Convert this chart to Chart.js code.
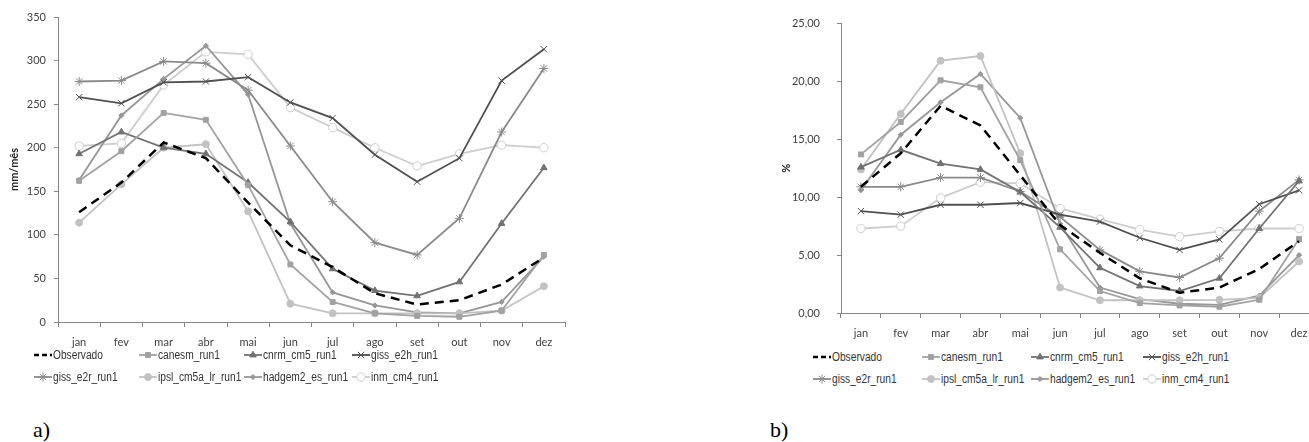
<!DOCTYPE html>
<html>
<head>
<meta charset="utf-8">
<script src="https://cdn.jsdelivr.net/npm/chart.js@4.4.0/dist/chart.umd.min.js"></script>
<style>
body { margin: 0; width: 1309px; height: 442px; overflow: hidden; background: #fff; position: relative; }
.box { position: absolute; top: 0; }
.leg { position: absolute; display: flex; align-items: center; white-space: nowrap;
       font-family: 'Liberation Sans', Arial, sans-serif; font-size: 12px; color: #333; }
.leg span { display: inline-block; transform: scaleX(0.85); transform-origin: left center; }
.tag { position: absolute; font-family: 'Liberation Serif', serif; font-size: 22px; color: #000; }
</style>
</head>
<body>
<div class="box" style="left:0; width:575px; height:352px"><canvas id="ca"></canvas></div>
<div class="box" style="left:760px; width:569px; height:343px"><canvas id="cb"></canvas></div>
<div id="legends"></div>
<div class="tag" style="left:33px; top:417px">a)</div>
<div class="tag" style="left:770px; top:417px">b)</div>
<script>
const months = ['jan', 'fev', 'mar', 'abr', 'mai', 'jun', 'jul', 'ago', 'set', 'out', 'nov', 'dez'];
const names = ['Observado', 'canesm_run1', 'cnrm_cm5_run1', 'giss_e2h_run1',
               'giss_e2r_run1', 'ipsl_cm5a_lr_run1', 'hadgem2_es_run1', 'inm_cm4_run1'];

// a) precipitation, mm/mes
const mmObservado = [126, 160, 206, 188, 137, 88, 63, 33, 20, 25, 43, 74];
const mmCanesm    = [162, 196, 240, 232, 157, 66, 23, 10, 7, 6, 13, 77];
const mmCnrm      = [193, 218, 200, 193, 160, 115, 61, 36, 30, 46, 113, 177];
const mmGissE2h   = [258, 251, 275, 276, 281, 252, 234, 192, 161, 188, 277, 313];
const mmGissE2r   = [276, 277, 299, 297, 266, 202, 138, 91, 77, 119, 218, 291];
const mmIpsl      = [114, 158, 200, 204, 127, 21, 10, 10, 10, 10, 13, 41];
const mmHadgem    = [163, 237, 279, 317, 261, 113, 34, 19, 11, 10, 23, 75];
const mmInm       = [202, 205, 272, 310, 307, 246, 223, 200, 179, 193, 203, 200];

// b) share of the annual total, %
const pctObservado = [10.9, 13.8, 17.9, 16.2, 11.9, 7.6, 5.2, 3.0, 1.75, 2.2, 3.8, 6.2];
const pctCanesm    = [13.7, 16.5, 20.1, 19.5, 13.2, 5.5, 1.9, 0.85, 0.65, 0.54, 1.14, 6.4];
const pctCnrm      = [12.6, 14.1, 12.9, 12.4, 10.45, 7.4, 3.9, 2.33, 1.9, 3.0, 7.3, 11.4];
const pctGissE2h   = [8.8, 8.5, 9.35, 9.35, 9.5, 8.5, 7.9, 6.5, 5.45, 6.36, 9.4, 10.6];
const pctGissE2r   = [10.9, 10.9, 11.7, 11.7, 10.5, 8.3, 5.45, 3.6, 3.07, 4.74, 8.8, 11.5];
const pctIpsl      = [12.4, 17.2, 21.8, 22.2, 13.8, 2.2, 1.1, 1.1, 1.1, 1.14, 1.3, 4.45];
const pctHadgem    = [10.6, 15.4, 18.2, 20.65, 16.85, 7.7, 2.2, 1.2, 0.8, 0.7, 1.5, 5.0];
const pctInm       = [7.3, 7.5, 9.95, 11.3, 11.2, 9.03, 8.1, 7.2, 6.6, 7.05, 7.3, 7.3];

// line look for each series, same order as names
const looks = [
    { color: '#000000', width: 2.5, dash: [9, 6], point: false, r: 0 },
    { color: '#a2a2a2', point: 'rect', r: 3.5 },
    { color: '#727272', point: 'triangle', r: 3.8 },
    { color: '#4f4f4f', point: 'crossRot', r: 4.5 },
    { color: '#8a8a8a', point: 'star', r: 4.5 },
    { color: '#c2c2c2', point: 'circle', r: 3.5 },
    { color: '#979797', point: 'rectRot', r: 2.6 },
    { color: '#cdcdcd', point: 'circle', r: 4.2, fill: '#ffffff' }
];

function makeSets(values) {
    return names.map((name, i) => {
        const lk = looks[i];
        return {
            label: name,
            data: values[i],
            borderColor: lk.color,
            backgroundColor: lk.fill || lk.color,
            borderWidth: lk.width || 1.8,
            borderDash: lk.dash || [],
            pointStyle: lk.point,
            pointRadius: lk.r,
            pointBorderColor: lk.color,
            pointBackgroundColor: lk.fill || lk.color,
            pointBorderWidth: 1,
            tension: 0,
            fill: false
        };
    });
}

const axisGray = '#868686';
const tickFont = { family: 'Lato', size: 11 };

function makeScales(o) {
    return {
        x: {
            offset: true,
            grid: { offset: true, drawOnChartArea: false, tickLength: 5, color: axisGray },
            border: { color: axisGray },
            ticks: { color: '#404040', font: tickFont, padding: 9, maxRotation: 0, autoSkip: false },
            afterFit: s => { s.height = 30; }
        },
        y: {
            min: 0,
            max: o.max,
            ticks: { stepSize: o.step, callback: o.fmt, color: '#404040', font: tickFont, padding: o.pad },
            grid: { drawOnChartArea: false, tickLength: 4, color: axisGray },
            border: { color: axisGray },
            title: {
                display: true, text: o.title, color: '#222',
                font: { family: 'Lato', size: 11, weight: 'bold' },
                padding: { top: o.tpad, bottom: 0 }
            },
            afterFit: s => { s.width = o.w; }
        }
    };
}

function makeChart(id, values, o, pad) {
    return new Chart(document.getElementById(id), {
        type: 'line',
        data: { labels: months, datasets: makeSets(values) },
        options: {
            responsive: true,
            maintainAspectRatio: false,
            animation: false,
            layout: { padding: pad },
            plugins: { legend: { display: false }, tooltip: { enabled: false } },
            scales: makeScales(o)
        }
    });
}

makeChart('ca',
    [mmObservado, mmCanesm, mmCnrm, mmGissE2h, mmGissE2r, mmIpsl, mmHadgem, mmInm],
    { max: 350, step: 50, fmt: v => v, pad: 8, title: 'mm/mês', tpad: 7.5, w: 58 },
    { top: 17, right: 10, bottom: 0, left: 0 });

makeChart('cb',
    [pctObservado, pctCanesm, pctCnrm, pctGissE2h, pctGissE2r, pctIpsl, pctHadgem, pctInm],
    { max: 25, step: 5, fmt: v => v.toFixed(2).replace('.', ','), pad: 17, title: '%', tpad: 20, w: 81 },
    { top: 20, right: 10, bottom: 0, left: 0 });

// legends: 4 columns x 2 rows, line + marker icon drawn with Chart's own point helper
function buildLegend(cols, rows) {
    const holder = document.getElementById('legends');
    names.forEach((name, i) => {
        const lk = looks[i];
        const item = document.createElement('div');
        item.className = 'leg';
        item.style.left = cols[i % 4] + 'px';
        item.style.top = rows[Math.floor(i / 4)] + 'px';
        const c = document.createElement('canvas');
        c.width = 20; c.height = 12;
        const ctx = c.getContext('2d');
        ctx.strokeStyle = lk.color;
        ctx.lineWidth = lk.width || 1.8;
        if (lk.dash) ctx.setLineDash([5, 3]);
        ctx.beginPath(); ctx.moveTo(1, 6); ctx.lineTo(19, 6); ctx.stroke();
        ctx.setLineDash([]);
        if (lk.point) {
            ctx.fillStyle = lk.fill || lk.color;
            ctx.lineWidth = 1;
            Chart.helpers.drawPoint(ctx, { pointStyle: lk.point, radius: lk.r, rotation: 0, borderWidth: 1 }, 10, 6);
        }
        item.appendChild(c);
        const t = document.createElement('span');
        t.textContent = name;
        item.appendChild(t);
        holder.appendChild(item);
    });
}

buildLegend([33, 138, 243, 351], [348, 370]);
buildLegend([812, 921, 1030, 1142], [350, 372]);
</script>
</body>
</html>
